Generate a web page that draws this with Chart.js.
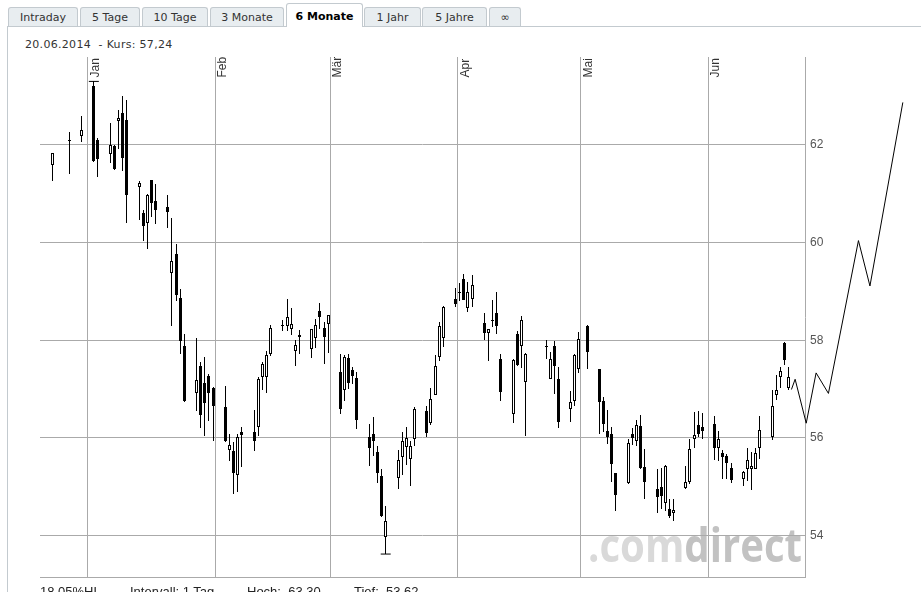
<!DOCTYPE html>
<html><head><meta charset="utf-8">
<script src="https://cdn.jsdelivr.net/npm/chart.js@4"></script>
<style>
html,body{margin:0;padding:0;background:#fff;}
body{width:921px;height:592px;overflow:hidden;position:relative;font-family:"DejaVu Sans",Verdana,sans-serif;}
.tab{position:absolute;top:7px;height:19px;line-height:19px;box-sizing:border-box;background:#e8edf0;border:1px solid #c3cacf;border-bottom:none;border-radius:3px 3px 0 0;font-size:11px;color:#333;text-align:center;white-space:nowrap;}
.tab.active{top:3px;height:24px;line-height:25px;background:#fff;font-weight:bold;color:#000;z-index:3;}
#panelTop{position:absolute;left:7px;right:0;top:26px;height:0;border-top:1px solid #c3cacf;}
#panelLeft{position:absolute;left:7px;top:26px;bottom:0;border-left:1px solid #c3cacf;}
#head{position:absolute;left:25px;top:38px;font-size:11px;line-height:14px;color:#333;white-space:pre;letter-spacing:0.3px;}
.foot{position:absolute;top:584px;font:13px "Liberation Sans",Arial,sans-serif;color:#222;white-space:pre;}
canvas{position:absolute;left:0;top:0;}
</style></head>
<body>
<div id="panelTop"></div><div id="panelLeft"></div>
<div class="tab" style="left:8px;width:70px">Intraday</div>
<div class="tab" style="left:80px;width:60px">5 Tage</div>
<div class="tab" style="left:142px;width:66px">10 Tage</div>
<div class="tab" style="left:210px;width:74px">3 Monate</div>
<div class="tab active" style="left:286px;width:77px">6 Monate</div>
<div class="tab" style="left:364px;width:57px">1 Jahr</div>
<div class="tab" style="left:422px;width:65px">5 Jahre</div>
<div class="tab" style="left:489px;width:32px">∞</div>
<div id="head"></div>
<canvas id="c" width="921" height="592"></canvas>
<div class="foot" id="f1" style="left:40px"></div>
<div class="foot" id="f2" style="left:130px">Intervall: 1 Tag</div>
<div class="foot" id="f3" style="left:247px"></div>
<div class="foot" id="f4" style="left:354px"></div>
<script>
const dates = ['2013-12-23','2013-12-27','2013-12-30',
'2014-01-02','2014-01-03','2014-01-06','2014-01-07','2014-01-08','2014-01-09','2014-01-10','2014-01-13','2014-01-14','2014-01-15','2014-01-16','2014-01-17','2014-01-20','2014-01-21','2014-01-22','2014-01-23','2014-01-24','2014-01-27','2014-01-28','2014-01-29','2014-01-30','2014-01-31',
'2014-02-03','2014-02-04','2014-02-05','2014-02-06','2014-02-07','2014-02-10','2014-02-11','2014-02-12','2014-02-13','2014-02-14','2014-02-17','2014-02-18','2014-02-19','2014-02-20','2014-02-21','2014-02-24','2014-02-25','2014-02-26','2014-02-27','2014-02-28',
'2014-03-03','2014-03-04','2014-03-05','2014-03-06','2014-03-07','2014-03-10','2014-03-11','2014-03-12','2014-03-13','2014-03-14','2014-03-17','2014-03-18','2014-03-19','2014-03-20','2014-03-21','2014-03-24','2014-03-25','2014-03-26','2014-03-27','2014-03-28','2014-03-31',
'2014-04-01','2014-04-02','2014-04-03','2014-04-04','2014-04-07','2014-04-08','2014-04-09','2014-04-10','2014-04-11','2014-04-14','2014-04-15','2014-04-16','2014-04-17','2014-04-22','2014-04-23','2014-04-24','2014-04-25','2014-04-28','2014-04-29','2014-04-30',
'2014-05-02','2014-05-05','2014-05-06','2014-05-07','2014-05-08','2014-05-09','2014-05-12','2014-05-13','2014-05-14','2014-05-15','2014-05-16','2014-05-19','2014-05-20','2014-05-21','2014-05-22','2014-05-23','2014-05-26','2014-05-27','2014-05-28','2014-05-29','2014-05-30',
'2014-06-02','2014-06-03','2014-06-04','2014-06-05','2014-06-06','2014-06-09','2014-06-10','2014-06-11','2014-06-12','2014-06-13','2014-06-16','2014-06-17','2014-06-18','2014-06-19','2014-06-20'];

const open = [61.58,62.10,62.18,
63.21,62.10,61.82,61.98,62.49,62.66,62.51,61.14,60.60,60.41,61.28,60.85,60.73,59.38,59.76,58.86,57.89,56.91,57.48,57.13,57.26,57.03,
56.64,55.75,55.74,55.23,56.11,56.11,56.22,57.24,57.24,57.72,58.29,58.30,58.23,57.78,58.10,57.81,58.04,58.59,58.25,58.34,
57.34,56.98,57.63,57.38,57.22,56.01,56.07,55.70,55.22,53.96,55.18,55.60,55.81,55.57,55.98,56.54,56.30,56.88,57.65,58.05,58.85,
58.97,59.26,58.65,58.85,58.36,58.15,58.42,58.56,57.61,56.49,58.12,57.88,57.15,57.89,57.21,57.89,57.20,56.59,56.75,57.40,
58.30,57.40,56.76,56.13,56.07,55.28,55.07,56.07,55.94,56.25,55.41,54.95,55.00,54.66,54.54,54.47,54.97,55.09,55.98,56.27,56.23,
56.29,55.79,55.69,55.63,55.38,55.16,55.37,55.37,55.37,55.79,56.01,56.88,57.24,57.95,57.02];

const high = [61.84,62.27,62.60,
63.30,62.14,62.45,61.99,62.72,63.01,62.91,61.26,60.67,60.99,61.28,61.20,60.97,60.50,59.97,59.04,58.13,58.04,57.56,57.65,57.30,57.04,
57.07,56.07,55.92,56.08,56.23,56.58,57.25,57.56,57.77,58.32,58.42,58.85,58.65,58.00,58.20,58.23,58.44,58.76,58.37,58.52,
57.71,57.69,57.71,57.46,57.34,56.29,56.42,55.84,55.37,54.61,55.76,56.11,56.23,55.94,56.64,56.65,57.02,57.69,58.37,58.70,59.06,
59.18,59.35,59.19,59.33,58.56,58.23,58.82,58.98,57.71,57.61,58.18,58.49,57.73,58.00,57.75,57.98,57.46,56.95,57.71,58.17,
58.31,57.41,56.83,56.57,56.22,55.29,55.98,56.20,56.37,56.47,55.77,55.36,55.39,55.44,54.75,54.75,55.43,55.98,56.52,56.54,56.51,
56.44,56.15,55.76,55.66,55.48,55.32,55.80,55.72,55.80,56.44,56.97,57.28,57.46,57.96,57.46];

const low = [61.27,61.40,62.05,
61.64,61.34,61.62,61.49,61.91,61.47,60.40,60.47,60.03,59.86,60.53,60.37,60.29,58.29,58.80,57.71,56.74,56.54,56.20,56.03,56.35,55.93,
55.92,55.53,54.85,54.90,55.40,55.74,56.03,56.99,56.91,57.68,58.19,58.19,58.10,57.48,57.71,57.63,57.83,58.22,57.52,57.74,
56.48,56.76,57.00,57.11,56.18,55.42,55.62,55.07,54.38,53.62,54.96,55.24,55.44,55.02,55.84,56.02,56.27,56.87,57.57,57.86,58.68,
58.80,58.82,58.58,58.69,58.00,57.57,58.27,58.13,56.76,56.30,57.48,57.44,56.03,57.61,57.20,56.89,56.20,56.32,56.66,57.33,
57.42,56.08,56.11,55.87,55.09,54.50,55.06,55.85,55.84,55.37,54.75,54.46,54.54,54.51,54.36,54.30,54.95,55.05,55.80,56.01,55.98,
55.55,55.53,55.16,55.16,55.07,55.01,55.12,54.93,55.36,55.57,55.96,56.78,57.02,57.50,56.98];

const close = [61.83,62.08,62.30,
61.66,61.71,61.99,61.50,62.55,61.74,60.98,61.21,60.34,60.97,60.80,60.67,60.63,59.62,58.92,57.98,56.76,57.19,56.47,56.71,56.91,56.65,
55.93,55.85,55.27,56.02,56.05,55.94,57.21,57.52,57.69,58.24,58.31,58.48,58.34,57.91,58.06,58.22,58.32,58.47,58.07,58.51,
56.59,57.65,57.12,57.26,56.37,55.79,55.93,55.27,54.39,54.30,55.55,55.94,56.00,55.84,56.59,56.09,56.80,57.48,58.30,58.69,58.75,
58.99,58.83,58.98,59.14,58.15,58.22,58.40,58.29,56.93,57.60,57.49,58.42,57.72,57.87,57.61,57.47,56.32,56.74,57.70,58.03,
57.76,56.73,56.29,56.02,55.46,54.83,55.89,56.00,56.27,55.38,55.09,54.78,54.81,55.43,54.39,54.52,55.10,55.77,56.06,56.08,56.15,
55.79,55.98,55.60,55.48,55.14,55.31,55.55,55.43,55.68,56.16,56.66,56.97,57.36,57.59,57.24];

// trailing line drawn past the right edge (x in days after 2014-01-01)
const tailDays   = [171.2, 172.1, 174.8, 177.2, 180.2, 187.5, 190.3, 198.3];
const tailValues = [56.99, 57.20, 56.30, 57.33, 56.91, 60.04, 59.11, 62.87];

const monthStarts = ['2014-01-01','2014-02-01','2014-03-01','2014-04-01','2014-05-01','2014-06-01'];
const monthLabels = ['Jan','Feb','Mär','Apr','Mai','Jun'];
const yTicks = [54, 56, 58, 60, 62];
const xRange = [-11.6, 174.5];

const dayOf = s => (Date.UTC(+s.slice(0,4), +s.slice(5,7)-1, +s.slice(8,10)) - Date.UTC(2014,0,1)) / 864e5;
const xs = dates.map(d => dayOf(d) + 0.5);

const hoch = Math.max(...high), tief = Math.min(...low);
const iH = high.indexOf(hoch), iL = low.indexOf(tief);
const de = v => v.toFixed(2).replace('.', ',');
const last = dates[dates.length-1];
document.getElementById('head').textContent = last.slice(8,10)+'.'+last.slice(5,7)+'.'+last.slice(0,4)+'  - Kurs: '+de(close[close.length-1]);
document.getElementById('f1').textContent = ((hoch-tief)/tief*100).toFixed(2)+'%HL';
document.getElementById('f3').textContent = 'Hoch:  '+de(hoch);
document.getElementById('f4').textContent = 'Tief:  '+de(tief);

const snap = {
  id: 'snap',
  afterDatasetsUpdate(chart) {
    chart.data.datasets.forEach((ds, i) => {
      if (ds.type !== 'bar') return;
      chart.getDatasetMeta(i).data.forEach(el => {
        el.x = Math.floor(el.x) + 0.5;
        let y = Math.round(el.y), b = Math.round(el.base);
        if (Math.abs(y - b) < 1) b = y + 1;
        el.y = y; el.base = b;
      });
    });
  }
};
const watermark = {
  id: 'wm',
  beforeDraw(chart) {
    const {ctx, chartArea: a} = chart;
    ctx.save();
    ctx.font = 'bold 47px "Open Sans", sans-serif';
    const w1 = ctx.measureText('.com').width, w2 = ctx.measureText('direct').width;
    const target = 214;
    ctx.translate(a.right - 217, a.bottom - 15.3);
    ctx.scale(target / (w1 + w2), 1);
    ctx.textBaseline = 'alphabetic';
    ctx.fillStyle = '#d9d9d9'; ctx.fillText('.com', 0, 0);
    ctx.fillStyle = '#c2c2c2'; ctx.fillText('direct', w1, 0);
    ctx.restore();
  }
};
const monthText = {
  id: 'monthText',
  afterDraw(chart) {
    const {ctx, scales: {x}, chartArea} = chart;
    ctx.save();
    ctx.font = '12px "Liberation Sans", Arial, sans-serif';
    ctx.fillStyle = '#333';
    ctx.textAlign = 'left'; ctx.textBaseline = 'alphabetic';
    monthStarts.forEach((m, i) => {
      const px = Math.round(x.getPixelForValue(dayOf(m)));
      ctx.save();
      ctx.translate(px + 11, chartArea.top + 20.5);
      ctx.rotate(-Math.PI / 2);
      ctx.fillText(monthLabels[i], 0, 0);
      ctx.restore();
    });
    ctx.restore();
  }
};

new Chart(document.getElementById('c'), {
  type: 'bar',
  data: {
    datasets: [
      { type: 'bar', label: 'Docht', data: xs.map((x, i) => ({x, y: [low[i], high[i]]})),
        barThickness: 1, backgroundColor: '#000', borderWidth: 0, grouped: false, inflateAmount: 0, order: 3 },
      { type: 'bar', label: 'Kerze', data: xs.map((x, i) => ({x, y: [open[i], close[i]]})),
        barThickness: 3, backgroundColor: c => (close[c.dataIndex] >= open[c.dataIndex] ? '#fff' : '#000'),
        borderColor: '#000', borderWidth: 1, borderSkipped: false, grouped: false, inflateAmount: 0, order: 2 },
      { type: 'line', label: 'Hoch/Tief', data: [{x: xs[iH], y: hoch}, {x: xs[iL], y: tief}],
        showLine: false, pointStyle: 'line', pointRadius: 5, borderColor: '#000', borderWidth: 1, order: 1 },
      { type: 'line', label: 'Linie', data: tailDays.map((x, i) => ({x, y: tailValues[i]})),
        borderColor: '#000', borderWidth: 1, pointRadius: 0, tension: 0, clip: false, order: 0 }
    ]
  },
  options: {
    responsive: false, animation: false, events: [],
    layout: { padding: { left: 40, top: 57, right: 0, bottom: 15 } },
    plugins: { legend: { display: false }, tooltip: { enabled: false } },
    scales: {
      x: { type: 'linear', bounds: 'data', offset: false,
           afterDataLimits: s => { s.min = xRange[0]; s.max = xRange[1]; },
           grid: { color: '#aaaaaa', drawTicks: false, offset: false },
           border: { display: true, color: '#aaaaaa' },
           ticks: { display: false },
           afterBuildTicks: s => { s.ticks = monthStarts.map(m => ({value: dayOf(m)})); } },
      y: { position: 'right', min: 53.15, max: 63.80,
           grid: { color: '#aaaaaa', drawTicks: false },
           border: { display: true, color: '#aaaaaa' },
           ticks: { padding: 5, color: '#555', font: { family: '"Liberation Sans", Arial, sans-serif', size: 12 } },
           afterBuildTicks: s => { s.ticks = yTicks.map(v => ({value: v})); },
           afterFit: s => { s.width = 116; } }
    }
  },
  plugins: [snap, watermark, monthText]
});
</script>
</body></html>
